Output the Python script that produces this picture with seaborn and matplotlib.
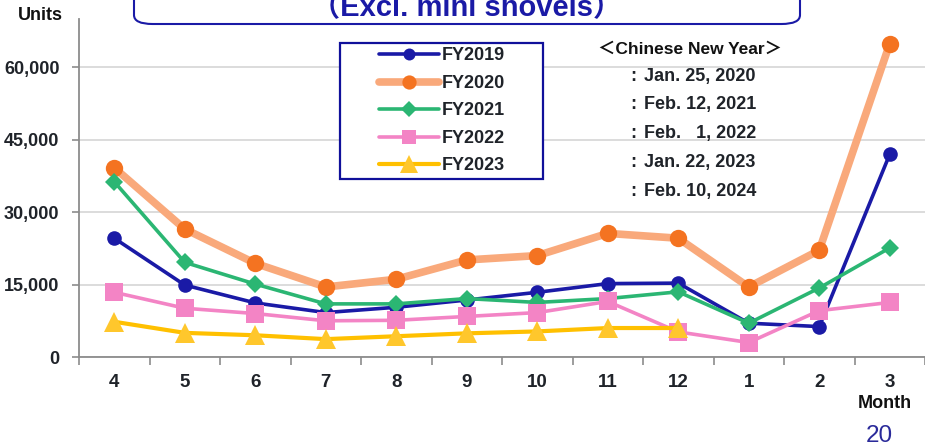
import matplotlib
matplotlib.use("Agg")
import matplotlib.pyplot as plt
from matplotlib.patches import FancyBboxPatch, Rectangle
from matplotlib.ticker import FixedLocator, FuncFormatter
import seaborn as sns
import numpy as np

# Monthly unit shipments by fiscal year (April to March)
months = ["4", "5", "6", "7", "8", "9", "10", "11", "12", "1", "2", "3"]
fy2019 = [24600, 14900, 11200, 9200, 10300, 11800, 13400, 15200, 15300, 7000, 6300, 42000]
fy2020 = [39200, 26500, 19400, 14500, 16100, 20100, 21000, 25600, 24600, 14500, 22100, 64900]
fy2021 = [36300, 19600, 15100, 11000, 11000, 12100, 11300, 12100, 13500, 7000, 14300, 22600]
fy2022 = [13400, 10100, 9000, 7500, 7600, 8400, 9200, 11500, 5200, 3000, 9600, 11300]
fy2023 = [7300, 5000, 4500, 3700, 4300, 4900, 5300, 6000, 6000]

series_names = ["FY2019", "FY2020", "FY2021", "FY2022", "FY2023"]
cny_dates = ["Jan. 25, 2020", "Feb. 12, 2021", "Feb.   1, 2022", "Jan. 22, 2023", "Feb. 10, 2024"]
y_ticks = [0, 15000, 30000, 45000, 60000]

sns.set_theme(style="white")
plt.rcParams["font.family"] = ["Liberation Sans", "Noto Sans CJK JP", "DejaVu Sans"]

NAVY = "#1a1aa6"
TEXT = "#1f2329"

fig = plt.figure(figsize=(9.25, 4.48), dpi=100)
W, H = 925, 448
ax = fig.add_axes([79 / W, 1 - 357 / H, 1 - 79 / W, (357 - 19) / H])

styles = [
    dict(color=NAVY, lw=2.6, marker="o", ms=10.5, mfc=NAVY),
    dict(color="#f9a97b", lw=5.5, marker="o", ms=12.5, mfc="#f47321"),
    dict(color="#2bb673", lw=2.6, marker="D", ms=9.5, mfc="#2bb673"),
    dict(color="#f384c5", lw=2.6, marker="s", ms=13, mfc="#f384c5"),
    dict(color="#ffc000", lw=3.0, marker="^", ms=15, mfc="#ffc72c"),
]
all_series = [fy2019, fy2020, fy2021, fy2022, fy2023]

for name, vals, st in zip(series_names, all_series, styles):
    x = np.arange(len(vals))
    sns.lineplot(x=x, y=vals, ax=ax, label=name, color=st["color"], linewidth=st["lw"],
                 marker=st["marker"], markersize=st["ms"], markerfacecolor=st["mfc"],
                 markeredgecolor=st["mfc"], markeredgewidth=0, zorder=3)

ax.set_xlim(-0.5, (925 - 115) / 71.0)
ax.set_ylim(0, 70000)

ax.yaxis.set_major_locator(FixedLocator(y_ticks))
ax.yaxis.set_major_formatter(FuncFormatter(lambda v, p: f"{int(v):,}"))
ax.set_xticks(np.arange(len(months)))
ax.set_xticklabels(months)
ax.set_xticks(np.arange(len(months) + 1) - 0.5, minor=True)

ax.grid(axis="y", color="#d9d9d9", lw=1.3)
ax.grid(axis="x", visible=False)
for s in ["top", "right"]:
    ax.spines[s].set_visible(False)
for s in ["left", "bottom"]:
    ax.spines[s].set_color("#8c8c8c")
    ax.spines[s].set_linewidth(1.3)

ax.tick_params(axis="y", which="major", length=5, width=1.2, color="#8c8c8c",
               left=True, pad=9, labelsize=13, labelcolor=TEXT)
ax.tick_params(axis="x", which="major", length=0, pad=12, labelsize=13.5, labelcolor=TEXT)
ax.tick_params(axis="x", which="minor", length=6, width=1.2, color="#8c8c8c", bottom=True)
for lbl in ax.get_xticklabels() + ax.get_yticklabels():
    lbl.set_fontweight("bold")
ax.set_xlabel("")
ax.set_ylabel("")

# Legend with a separately drawn square frame
frame = Rectangle((340 / W, 1 - 179 / H), (543 - 340) / W, (179 - 43) / H,
                  transform=fig.transFigure, facecolor="white", edgecolor="#10109a",
                  lw=1.6, zorder=4, clip_on=False)
ax.add_patch(frame)
leg = ax.legend(loc="upper left", bbox_to_anchor=(374 / W, 1 - 42 / H),
                bbox_transform=fig.transFigure, frameon=False,
                handlelength=3.3, labelspacing=0.58, borderpad=0.3, handletextpad=0.15,
                prop=dict(weight="bold", size=13), borderaxespad=0)
leg.set_zorder(6)
for t in leg.get_texts():
    t.set_color(TEXT)
for h in leg.legend_handles:
    h.set_markersize(h.get_markersize() * 0.82)

# Chinese New Year notes
fig.text(690 / W, 1 - 49 / H, "＜Chinese New Year＞", ha="center", va="center",
         fontsize=12.5, fontweight="bold", color="#111111")
for i, d in enumerate(cny_dates):
    yy = 1 - (76 + i * 28.8) / H
    fig.text(630 / W, yy, ":", ha="left", va="center", fontsize=13,
             fontweight="bold", color=TEXT)
    fig.text(644 / W, yy, d, ha="left", va="center", fontsize=13,
             fontweight="bold", color=TEXT)

# Header box with subtitle running off the top edge
box = FancyBboxPatch((134 / W, 1 - 24 / H), (800 - 134) / W, 60 / H,
                     boxstyle="round,pad=0,rounding_size=0.02", transform=fig.transFigure,
                     facecolor="white", edgecolor=NAVY, lw=1.5, clip_on=False)
fig.patches.append(box)
fig.text(467 / W, 1 - 16 / H, "（Excl. mini shovels）", ha="center", va="baseline",
         fontsize=21, fontweight="bold", color=NAVY)

fig.text(40 / W, 1 - 16 / H, "Units", ha="center", va="center", fontsize=13,
         fontweight="bold", color="#111111")
fig.text(885 / W, 1 - 403 / H, "Month", ha="center", va="center", fontsize=13,
         fontweight="bold", color="#111111")
fig.text(879 / W, 1 - 436 / H, "20", ha="center", va="center", fontsize=17.5,
         color="#2a2a9a")

fig.savefig("out.png", dpi=100)
